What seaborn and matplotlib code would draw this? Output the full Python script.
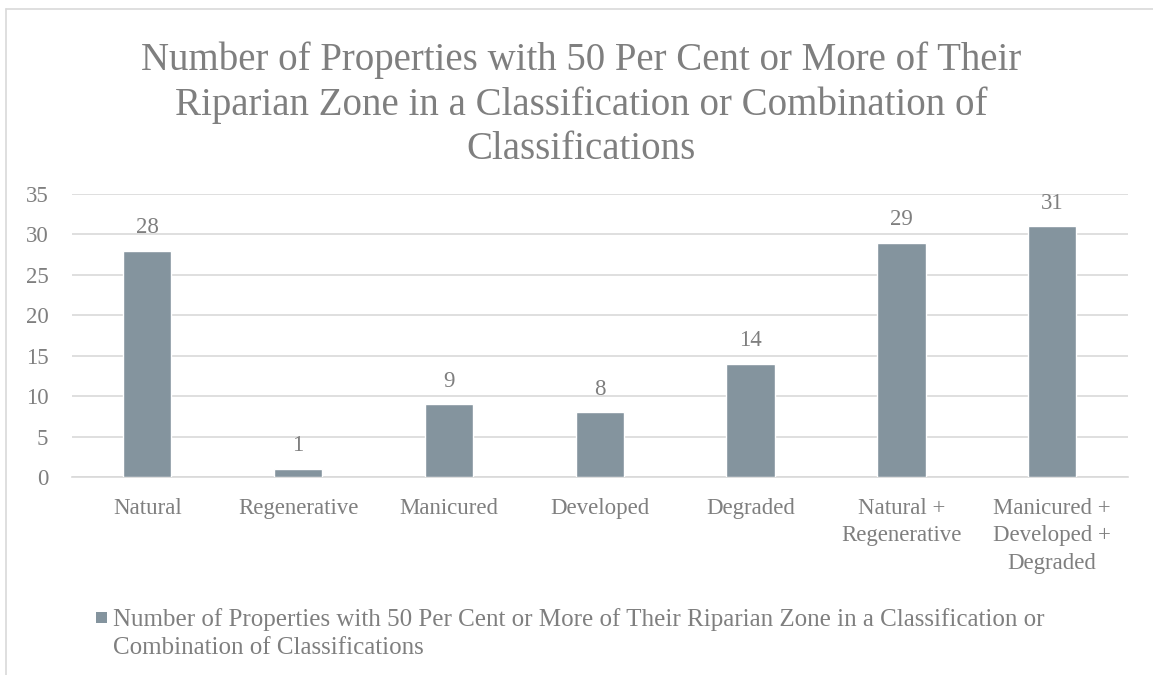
import numpy as np
import pandas as pd
import seaborn as sns
import matplotlib.pyplot as plt
from matplotlib.patches import Rectangle

categories = ["Natural", "Regenerative", "Manicured", "Developed", "Degraded",
              "Natural +\nRegenerative", "Manicured +\nDeveloped +\nDegraded"]
counts = [28, 1, 9, 8, 14, 29, 31]
y_ticks = [0, 5, 10, 15, 20, 25, 30, 35]
title_text = ("Number of Properties with 50 Per Cent or More of Their\n"
              "Riparian Zone in a Classification or Combination of\n"
              "Classifications")
legend_text = ("Number of Properties with 50 Per Cent or More of Their Riparian Zone in a Classification or\n"
               "Combination of Classifications")

bar_color = "#84949e"
text_color = "#7f7f7f"
grid_color = "#d9d9d9"

sns.set_style("white")
plt.rcParams["font.family"] = ["Liberation Serif", "DejaVu Serif"]

df = pd.DataFrame({"category": categories, "count": counts})

fig = plt.figure(figsize=(11.53, 6.75), dpi=100)
ax = fig.add_axes([0.0624, 0.2933, 0.9156, 0.4193])

sns.barplot(data=df, x="category", y="count", color=bar_color, width=0.32,
            saturation=1, ax=ax, zorder=3)

ax.set_ylim(0, 35)
ax.set_yticks(y_ticks)
ax.yaxis.grid(True, color=grid_color, linewidth=1.2, zorder=0)
ax.set_axisbelow(True)
for s in ["top", "right", "left"]:
    ax.spines[s].set_visible(False)
ax.spines["bottom"].set_color(grid_color)
ax.spines["bottom"].set_linewidth(1.2)
ax.tick_params(axis="both", length=0, colors=text_color, labelsize=16.5)
ax.tick_params(axis="x", pad=15)
ax.tick_params(axis="y", pad=17)
for lbl in ax.get_xticklabels():
    lbl.set_linespacing(1.4)
ax.set_xlabel("")
ax.set_ylabel("")

ax.bar_label(ax.containers[0], padding=9, color=text_color, fontsize=16.5)

fig.text(0.504, 0.938, title_text, ha="center", va="top", fontsize=28,
         color=text_color, linespacing=1.25)

# legend entry: square swatch plus wrapped label
fig.add_artist(Rectangle((0.0833, 0.077), 0.0095, 0.0163, transform=fig.transFigure,
                         facecolor=bar_color, edgecolor="none"))
fig.text(0.098, 0.0985, legend_text, ha="left", va="top", fontsize=18,
         color=text_color, linespacing=1.3)

# chart frame lines (left and top)
fig.add_artist(plt.Line2D([0.0055, 0.0055], [0, 0.987], color=grid_color, linewidth=1.2))
fig.add_artist(plt.Line2D([0.0055, 1.0], [0.987, 0.987], color=grid_color, linewidth=1.2))

fig.savefig("out.png", dpi=100, facecolor="white")
